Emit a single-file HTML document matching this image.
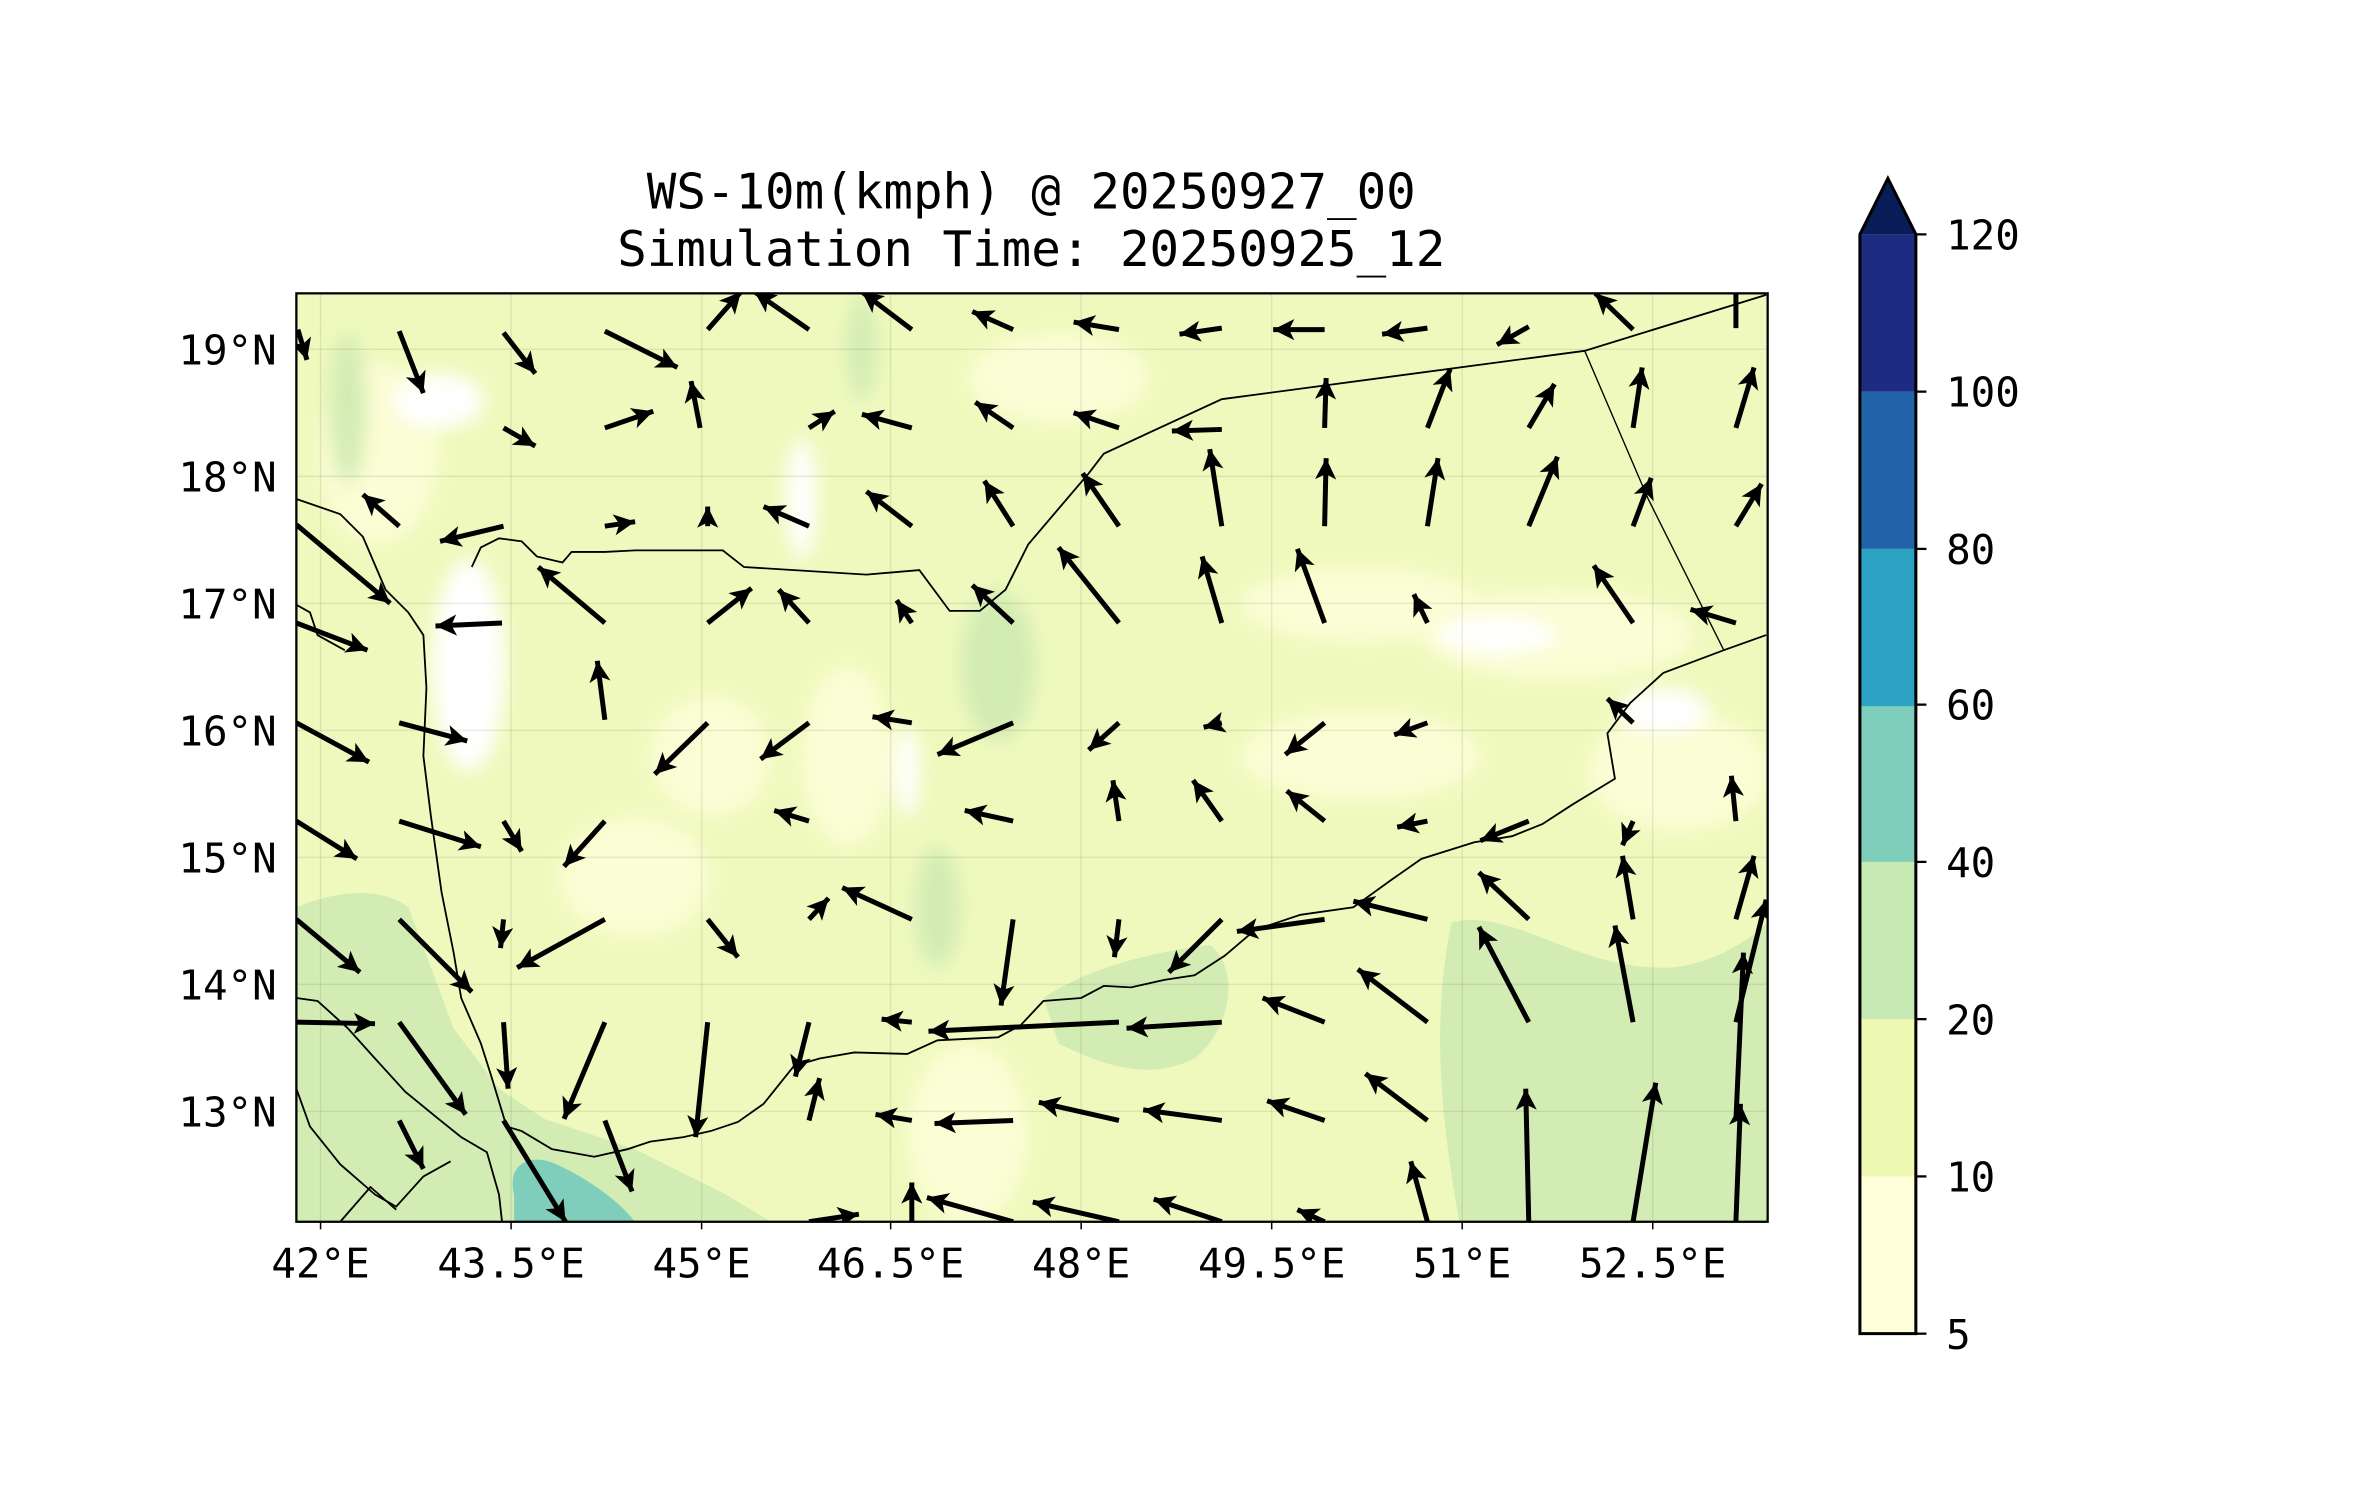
<!DOCTYPE html>
<html><head><meta charset="utf-8"><style>
html,body{margin:0;padding:0;background:#fff;}
svg{display:block;}
text{font-family:"DejaVu Sans Mono","Liberation Mono",monospace;fill:#000;}
</style></head><body>
<svg width="2371" height="1500" viewBox="0 0 1568 992" preserveAspectRatio="none" xmlns="http://www.w3.org/2000/svg">
<defs>
<marker id="ah" viewBox="0 0 10 10" refX="10" refY="5" markerWidth="17" markerHeight="14" markerUnits="userSpaceOnUse" orient="auto">
<path d="M0,0 L10,5 L0,10 L2.5,5 z" fill="#000"/>
</marker>
<clipPath id="cp"><rect x="196" y="194" width="973" height="614"/></clipPath>
<filter id="bl" x="-50%" y="-50%" width="200%" height="200%"><feGaussianBlur stdDeviation="6"/></filter>
</defs>
<text x="682" y="138" font-size="32.5" text-anchor="middle">WS-10m(kmph) @ 20250927_00</text>
<text x="682" y="176" font-size="32.5" text-anchor="middle">Simulation Time: 20250925_12</text>
<g clip-path="url(#cp)">
<rect x="196" y="194" width="973" height="614" fill="#eff9bd"/>
<g filter="url(#bl)">
<ellipse cx="1030" cy="420" rx="90" ry="30" fill="#fbfdd4"/>
<ellipse cx="900" cy="400" rx="80" ry="25" fill="#fbfdd4"/>
<ellipse cx="1110" cy="510" rx="60" ry="40" fill="#fbfdd4"/>
<ellipse cx="560" cy="500" rx="30" ry="60" fill="#fbfdd4"/>
<ellipse cx="470" cy="500" rx="40" ry="40" fill="#fbfdd4"/>
<ellipse cx="900" cy="500" rx="80" ry="30" fill="#fbfdd4"/>
<ellipse cx="640" cy="750" rx="40" ry="60" fill="#fbfdd4"/>
<ellipse cx="250" cy="300" rx="40" ry="60" fill="#fbfdd4"/>
<ellipse cx="420" cy="580" rx="50" ry="40" fill="#fbfdd4"/>
<ellipse cx="700" cy="250" rx="60" ry="30" fill="#fbfdd4"/>
<ellipse cx="310" cy="440" rx="24" ry="70" fill="#ffffff"/>
<ellipse cx="290" cy="265" rx="30" ry="18" fill="#ffffff"/>
<ellipse cx="990" cy="420" rx="40" ry="12" fill="#ffffff"/>
<ellipse cx="1100" cy="470" rx="30" ry="15" fill="#ffffff"/>
<ellipse cx="530" cy="330" rx="10" ry="40" fill="#ffffff"/>
<ellipse cx="600" cy="510" rx="8" ry="30" fill="#ffffff"/>
<ellipse cx="250" cy="790" rx="25" ry="20" fill="#ffffff"/>
<ellipse cx="660" cy="440" rx="25" ry="50" fill="#d3ecb4"/>
<ellipse cx="570" cy="230" rx="10" ry="35" fill="#d3ecb4"/>
<ellipse cx="230" cy="270" rx="12" ry="50" fill="#d3ecb4"/>
<ellipse cx="620" cy="600" rx="15" ry="40" fill="#d3ecb4"/>
</g>
<path d="M196,600 C220,590 250,585 270,600 L300,680 L330,720 L360,740 L420,760 L480,790 L510,808 L196,808 Z" fill="#d3ecb4"/>
<path d="M196,650 L240,640 L280,700 L300,760 L290,808 L196,808Z" fill="#d3ecb4"/>
<path d="M960,610 C1000,600 1040,640 1100,640 C1130,640 1160,620 1169,610 L1169,808 L965,808 C955,750 945,680 960,610Z" fill="#d3ecb4"/>
<path d="M690,660 C720,640 760,630 800,625 C820,640 815,680 790,700 C760,715 730,705 700,690Z" fill="#d3ecb4"/>
<path d="M340,790 C335,770 350,762 368,770 C390,780 410,795 420,808 L340,808Z" fill="#7fcdbb"/>
<g stroke="#000" stroke-opacity="0.08" stroke-width="1">
<line x1="212" y1="194" x2="212" y2="808"/><line x1="338" y1="194" x2="338" y2="808"/><line x1="464" y1="194" x2="464" y2="808"/><line x1="589" y1="194" x2="589" y2="808"/><line x1="715" y1="194" x2="715" y2="808"/><line x1="841" y1="194" x2="841" y2="808"/><line x1="967" y1="194" x2="967" y2="808"/><line x1="1093" y1="194" x2="1093" y2="808"/>
<line x1="196" y1="231" x2="1169" y2="231"/><line x1="196" y1="315" x2="1169" y2="315"/><line x1="196" y1="399" x2="1169" y2="399"/><line x1="196" y1="483" x2="1169" y2="483"/><line x1="196" y1="567" x2="1169" y2="567"/><line x1="196" y1="651" x2="1169" y2="651"/><line x1="196" y1="735" x2="1169" y2="735"/>
</g>
<g fill="none" stroke="#000" stroke-width="1.2">
<polyline points="312,375 318,362 330,356 345,358 355,368 372,372 378,365 400,365 420,364 478,364 492,375 573,380 608,377 628,404 648,404 665,390 680,360 720,313 730,300 808,264 1048,232 1168,195"/>
<polyline points="1048,232 1090,330 1140,430" stroke-width="0.9"/>
<polyline points="1168,420 1140,430 1100,445 1078,465 1063,485 1068,515 1040,532 1020,545 1000,553 975,557 940,568 920,582 895,600 860,605 830,615 810,632 790,645 770,648 748,653 730,652 715,660 690,662 675,678 660,686 620,688 600,697 565,696 542,700 525,705 505,730 488,742 470,748 452,752 430,755 415,760 393,765 365,760 345,748 335,745 325,712 318,690 305,660 300,630 292,590 285,540 280,500 282,455 280,420 270,405 255,390 240,355 225,340 196,330"/>
<polyline points="196,660 210,662 230,680 248,700 268,722 290,740 305,752 322,762 330,790 332,808"/>
<polyline points="196,720 205,745 225,770 248,790 262,798 280,778 298,768"/>
<polyline points="225,808 245,785 262,800"/>
<polyline points="196,400 205,405 210,420 228,430"/>
</g>
<g stroke="#000" stroke-width="3.3" marker-end="url(#ah)" fill="none">
<line x1="197" y1="218" x2="203" y2="238"/><line x1="264" y1="219" x2="280" y2="260"/><line x1="333" y1="220" x2="354" y2="247"/><line x1="400" y1="219" x2="448" y2="243"/><line x1="468" y1="218" x2="490" y2="193"/><line x1="535" y1="218" x2="499" y2="193"/><line x1="603" y1="218" x2="570" y2="193"/><line x1="670" y1="218" x2="643" y2="206"/><line x1="740" y1="218" x2="710" y2="213"/><line x1="808" y1="217" x2="780" y2="221"/><line x1="876" y1="218" x2="842" y2="218"/><line x1="944" y1="217" x2="914" y2="221"/><line x1="1011" y1="216" x2="990" y2="228"/><line x1="1080" y1="218" x2="1055" y2="194"/>
<line x1="463" y1="283" x2="457" y2="252"/><line x1="400" y1="283" x2="432" y2="272"/><line x1="333" y1="283" x2="354" y2="295"/><line x1="535" y1="283" x2="552" y2="272"/><line x1="603" y1="283" x2="570" y2="274"/><line x1="670" y1="283" x2="645" y2="266"/><line x1="740" y1="283" x2="710" y2="273"/><line x1="808" y1="284" x2="775" y2="285"/><line x1="876" y1="283" x2="877" y2="250"/><line x1="944" y1="283" x2="959" y2="244"/><line x1="1011" y1="283" x2="1028" y2="254"/><line x1="1080" y1="283" x2="1086" y2="243"/><line x1="1148" y1="283" x2="1160" y2="243"/>
<line x1="264" y1="348" x2="240" y2="327"/><line x1="333" y1="348" x2="291" y2="358"/><line x1="400" y1="348" x2="420" y2="345"/><line x1="468" y1="348" x2="468" y2="335"/><line x1="535" y1="348" x2="505" y2="335"/><line x1="603" y1="348" x2="573" y2="325"/><line x1="670" y1="348" x2="651" y2="318"/><line x1="740" y1="348" x2="716" y2="313"/><line x1="808" y1="348" x2="800" y2="297"/><line x1="876" y1="348" x2="877" y2="303"/><line x1="944" y1="348" x2="951" y2="303"/><line x1="1011" y1="348" x2="1030" y2="302"/><line x1="1080" y1="348" x2="1092" y2="316"/><line x1="1148" y1="348" x2="1165" y2="320"/>
<line x1="196" y1="347" x2="258" y2="399"/><line x1="332" y1="412" x2="288" y2="414"/><line x1="400" y1="412" x2="356" y2="375"/><line x1="468" y1="412" x2="497" y2="389"/><line x1="535" y1="412" x2="515" y2="390"/><line x1="603" y1="412" x2="593" y2="397"/><line x1="670" y1="412" x2="643" y2="387"/><line x1="740" y1="412" x2="700" y2="362"/><line x1="808" y1="412" x2="795" y2="368"/><line x1="876" y1="412" x2="858" y2="363"/><line x1="944" y1="412" x2="935" y2="393"/><line x1="1080" y1="412" x2="1054" y2="374"/><line x1="1148" y1="412" x2="1118" y2="403"/><line x1="196" y1="412" x2="243" y2="430"/>
<line x1="196" y1="478" x2="244" y2="504"/><line x1="264" y1="478" x2="309" y2="490"/><line x1="400" y1="476" x2="395" y2="437"/><line x1="468" y1="478" x2="433" y2="512"/><line x1="535" y1="478" x2="503" y2="502"/><line x1="603" y1="478" x2="577" y2="474"/><line x1="670" y1="478" x2="620" y2="499"/><line x1="740" y1="478" x2="720" y2="496"/><line x1="808" y1="478" x2="796" y2="481"/><line x1="876" y1="478" x2="850" y2="499"/><line x1="944" y1="478" x2="922" y2="486"/><line x1="1080" y1="478" x2="1063" y2="462"/>
<line x1="196" y1="543" x2="236" y2="568"/><line x1="264" y1="543" x2="318" y2="560"/><line x1="333" y1="543" x2="345" y2="563"/><line x1="400" y1="543" x2="373" y2="573"/><line x1="535" y1="543" x2="512" y2="536"/><line x1="670" y1="543" x2="638" y2="536"/><line x1="740" y1="543" x2="736" y2="516"/><line x1="808" y1="543" x2="789" y2="516"/><line x1="876" y1="543" x2="851" y2="523"/><line x1="944" y1="543" x2="924" y2="547"/><line x1="1011" y1="543" x2="979" y2="556"/><line x1="1080" y1="543" x2="1073" y2="559"/><line x1="1148" y1="543" x2="1145" y2="513"/>
<line x1="196" y1="608" x2="238" y2="643"/><line x1="264" y1="608" x2="312" y2="656"/><line x1="333" y1="608" x2="331" y2="627"/><line x1="400" y1="608" x2="342" y2="640"/><line x1="468" y1="608" x2="488" y2="633"/><line x1="535" y1="608" x2="548" y2="594"/><line x1="603" y1="608" x2="557" y2="587"/><line x1="670" y1="608" x2="662" y2="665"/><line x1="740" y1="608" x2="737" y2="633"/><line x1="808" y1="608" x2="773" y2="643"/><line x1="876" y1="608" x2="818" y2="616"/><line x1="944" y1="608" x2="895" y2="596"/><line x1="1011" y1="608" x2="978" y2="577"/><line x1="1080" y1="608" x2="1073" y2="566"/><line x1="1148" y1="608" x2="1160" y2="566"/>
<line x1="196" y1="676" x2="248" y2="677"/><line x1="264" y1="676" x2="308" y2="737"/><line x1="333" y1="676" x2="336" y2="720"/><line x1="400" y1="676" x2="373" y2="740"/><line x1="468" y1="676" x2="460" y2="752"/><line x1="535" y1="676" x2="526" y2="712"/><line x1="603" y1="676" x2="583" y2="674"/><line x1="740" y1="676" x2="614" y2="682"/><line x1="808" y1="676" x2="745" y2="680"/><line x1="876" y1="676" x2="835" y2="660"/><line x1="944" y1="676" x2="898" y2="641"/><line x1="1011" y1="676" x2="978" y2="613"/><line x1="1080" y1="676" x2="1068" y2="612"/><line x1="1148" y1="676" x2="1168" y2="595"/>
<line x1="264" y1="741" x2="280" y2="773"/><line x1="400" y1="741" x2="418" y2="788"/><line x1="535" y1="741" x2="542" y2="713"/><line x1="603" y1="741" x2="579" y2="737"/><line x1="670" y1="741" x2="618" y2="743"/><line x1="740" y1="741" x2="687" y2="729"/><line x1="808" y1="741" x2="756" y2="734"/><line x1="876" y1="741" x2="838" y2="728"/><line x1="944" y1="741" x2="903" y2="710"/>
<line x1="1011" y1="808" x2="1009" y2="720"/><line x1="1080" y1="808" x2="1095" y2="716"/><line x1="1148" y1="808" x2="1151" y2="730"/><line x1="1148" y1="741" x2="1153" y2="630"/><line x1="333" y1="741" x2="374" y2="808"/>
<line x1="603" y1="808" x2="603" y2="782"/><line x1="670" y1="808" x2="613" y2="792"/><line x1="740" y1="808" x2="683" y2="795"/><line x1="808" y1="808" x2="763" y2="793"/><line x1="876" y1="808" x2="858" y2="800"/><line x1="944" y1="808" x2="933" y2="768"/><line x1="535" y1="808" x2="568" y2="803"/>
</g>
<line x1="1148" y1="217" x2="1148" y2="194" stroke="#000" stroke-width="3.3"/>
</g>
<rect x="196" y="194" width="973" height="614" fill="none" stroke="#000" stroke-width="1.5"/>
<g stroke="#000" stroke-width="1"><line x1="212" y1="808" x2="212" y2="813"/><line x1="338" y1="808" x2="338" y2="813"/><line x1="464" y1="808" x2="464" y2="813"/><line x1="589" y1="808" x2="589" y2="813"/><line x1="715" y1="808" x2="715" y2="813"/><line x1="841" y1="808" x2="841" y2="813"/><line x1="967" y1="808" x2="967" y2="813"/><line x1="1093" y1="808" x2="1093" y2="813"/></g>
<g font-size="27" text-anchor="middle">
<text x="212" y="845">42°E</text><text x="338" y="845">43.5°E</text><text x="464" y="845">45°E</text><text x="589" y="845">46.5°E</text><text x="715" y="845">48°E</text><text x="841" y="845">49.5°E</text><text x="967" y="845">51°E</text><text x="1093" y="845">52.5°E</text>
</g>
<g font-size="27" text-anchor="end">
<text x="183" y="241">19°N</text><text x="183" y="325">18°N</text><text x="183" y="409">17°N</text><text x="183" y="493">16°N</text><text x="183" y="577">15°N</text><text x="183" y="661">14°N</text><text x="183" y="745">13°N</text>
</g>
<g>
<rect x="1230" y="778" width="37" height="104" fill="#ffffd9"/>
<rect x="1230" y="674" width="37" height="104" fill="#edf8b1"/>
<rect x="1230" y="570" width="37" height="104" fill="#c7e9b4"/>
<rect x="1230" y="466" width="37" height="104" fill="#7fcdbb"/>
<rect x="1230" y="363" width="37" height="104" fill="#2ca3c3"/>
<rect x="1230" y="259" width="37" height="104" fill="#2264a9"/>
<rect x="1230" y="155" width="37" height="104" fill="#1d2c80"/>
<path d="M1230,155 L1248.5,118 L1267,155 Z" fill="#081d58"/>
<path d="M1230,882 L1230,155 L1248.5,118 L1267,155 L1267,882 Z" fill="none" stroke="#000" stroke-width="2"/>
<g stroke="#000" stroke-width="1.5"><line x1="1267" y1="882" x2="1274" y2="882"/><line x1="1267" y1="778" x2="1274" y2="778"/><line x1="1267" y1="674" x2="1274" y2="674"/><line x1="1267" y1="570" x2="1274" y2="570"/><line x1="1267" y1="466" x2="1274" y2="466"/><line x1="1267" y1="363" x2="1274" y2="363"/><line x1="1267" y1="259" x2="1274" y2="259"/><line x1="1267" y1="155" x2="1274" y2="155"/></g>
<g font-size="27"><text x="1287" y="892">5</text><text x="1287" y="788">10</text><text x="1287" y="684">20</text><text x="1287" y="580">40</text><text x="1287" y="476">60</text><text x="1287" y="373">80</text><text x="1287" y="269">100</text><text x="1287" y="165">120</text></g>
</g>
</svg>
</body></html>
